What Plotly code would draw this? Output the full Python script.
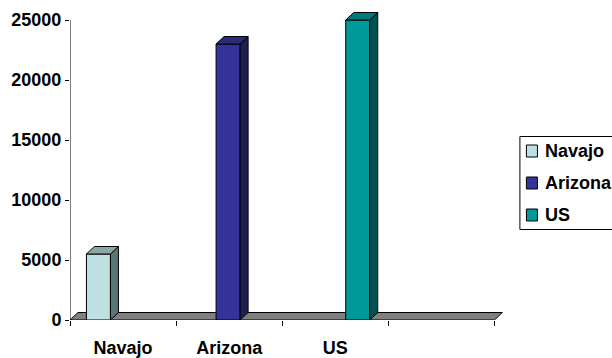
import plotly.graph_objects as go

# Series: one clustered 3-D style column per region
categories = ["Navajo", "Arizona", "US"]
values = [5500, 23000, 25000]
front_colors = ["#BDE0E3", "#333399", "#009999"]
side_colors = ["#5B7475", "#1F1F52", "#005252"]
top_colors = ["#8BA7AA", "#2B2B7C", "#007878"]

y_ticks = [0, 5000, 10000, 15000, 20000, 25000]
y_tick_labels = [str(v) for v in y_ticks]
n_slots = 4  # category slots on the floor (last one empty)

# Figure geometry (pixels) used to express depth offsets in data units
W, H = 612, 358
ML, MT, MB = 70, 8, 38
PX_PER_CAT = 106.0
X_MAX = 4.1
Y_MAX = 26000
plot_w = X_MAX * PX_PER_CAT
plot_h = H - MT - MB
MR = W - ML - plot_w
px_per_y = plot_h / Y_MAX

DEPTH_X = 8.0 / PX_PER_CAT      # depth offset, category units
DEPTH_Y = 7.5 / px_per_y        # depth offset, value units
BAR_W = 24.0 / PX_PER_CAT
SLOT = 0.222

FONT = dict(family="Liberation Sans, Arial, sans-serif", size=18, color="black", weight="bold")

fig = go.Figure()

# Front faces
centers = []
for i, (name, v) in enumerate(zip(categories, values)):
    c = i + 0.49 + (i - 1) * SLOT
    centers.append(c)
    fig.add_trace(go.Bar(
        x=[c], y=[v], width=[BAR_W], name=name,
        marker=dict(color=front_colors[i], line=dict(color="black", width=1)),
        showlegend=False, hoverinfo="name+y",
    ))

# Side and top faces
for i, v in enumerate(values):
    x0 = centers[i] - BAR_W / 2
    x1 = centers[i] + BAR_W / 2
    fig.add_trace(go.Scatter(
        x=[x1, x1 + DEPTH_X, x1 + DEPTH_X, x1, x1],
        y=[0, DEPTH_Y, v + DEPTH_Y, v, 0],
        mode="lines", fill="toself", fillcolor=side_colors[i],
        line=dict(color="black", width=1), showlegend=False, hoverinfo="skip",
    ))
    fig.add_trace(go.Scatter(
        x=[x0, x0 + DEPTH_X, x1 + DEPTH_X, x1, x0],
        y=[v, v + DEPTH_Y, v + DEPTH_Y, v, v],
        mode="lines", fill="toself", fillcolor=top_colors[i],
        line=dict(color="black", width=1), showlegend=False, hoverinfo="skip",
    ))

# Floor plate beneath the columns
floor_path = (f"M 0,0 L {n_slots},0 L {n_slots + DEPTH_X},{DEPTH_Y} "
              f"L {DEPTH_X},{DEPTH_Y} Z")
fig.add_shape(type="path", path=floor_path, xref="x", yref="y",
              fillcolor="#808080", line=dict(color="black", width=1), layer="below")

# Value axis line
fig.add_shape(type="line", xref="x", yref="y", x0=0, x1=0, y0=0, y1=y_ticks[-1],
              line=dict(color="black", width=1), layer="above")

# Legend box with swatches
def px_x(p):
    return (p - ML) / plot_w

def px_y(p):
    return (H - MB - p) / plot_h

fig.add_shape(type="rect", xref="paper", yref="paper",
              x0=px_x(519.5), x1=px_x(640), y0=px_y(229.5), y1=px_y(136.5),
              line=dict(color="black", width=1), fillcolor="white")
for i, name in enumerate(categories):
    cy = 151 + 32 * i
    fig.add_shape(type="rect", xref="paper", yref="paper",
                  x0=px_x(526), x1=px_x(537), y0=px_y(cy + 6), y1=px_y(cy - 6),
                  line=dict(color="black", width=1), fillcolor=front_colors[i])
    fig.add_annotation(text=name, xref="paper", yref="paper",
                       x=px_x(543), y=px_y(cy), xanchor="left", yanchor="middle",
                       showarrow=False, font=FONT)

fig.update_layout(
    width=W, height=H,
    margin=dict(l=ML, r=MR, t=MT, b=MB, pad=0, autoexpand=False),
    paper_bgcolor="white", plot_bgcolor="white",
    barmode="overlay",
    showlegend=False,
    xaxis=dict(
        range=[0, X_MAX], showgrid=False, zeroline=False, showline=False,
        automargin=False,
        tickvals=[i + 0.5 for i in range(len(categories))], ticktext=categories,
        ticks="", tickfont=FONT, ticklabelstandoff=15,
        minor=dict(tickvals=list(range(n_slots + 1)), ticks="outside",
                   ticklen=5, tickcolor="black", tickwidth=1, showgrid=False),
    ),
    yaxis=dict(
        range=[0, Y_MAX], showgrid=False, zeroline=False, showline=False,
        automargin=False,
        tickvals=y_ticks, ticktext=y_tick_labels, ticks="outside", ticklen=4,
        tickcolor="black", tickfont=FONT,
    ),
)

fig.write_html("out.html")
